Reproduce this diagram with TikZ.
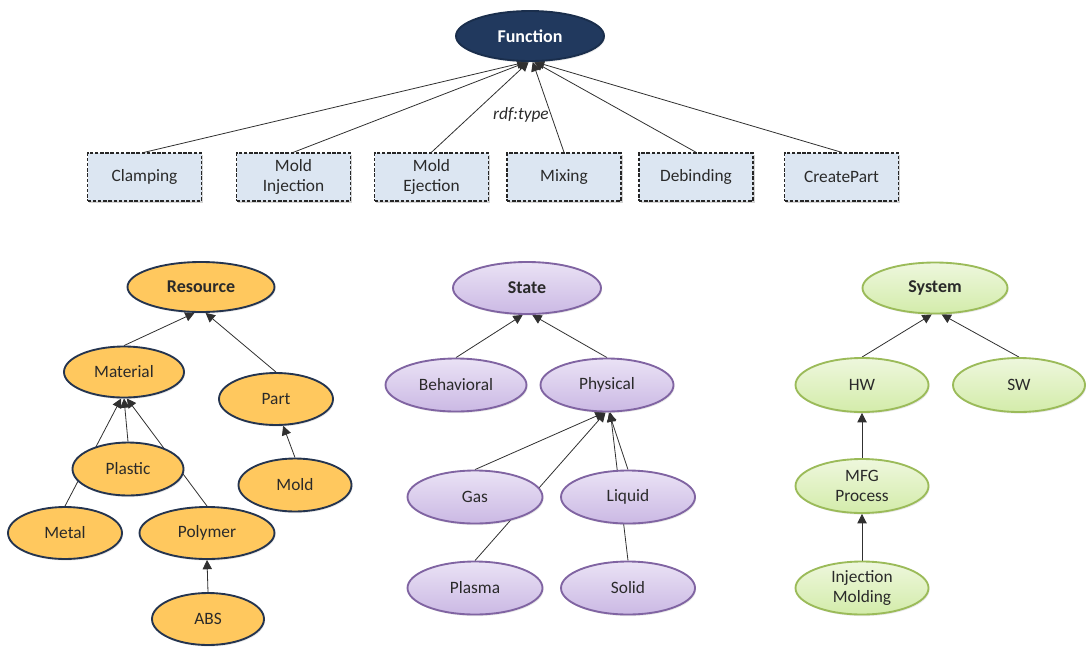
\documentclass[tikz,border=0pt]{standalone}
\usepackage{fontspec}
\setmainfont{Carlito}
\usetikzlibrary{shapes.geometric,arrows.meta,shadows,backgrounds}

% one drawing unit is one pixel of the layout grid
\def\pu{0.75pt}

\definecolor{txt}{HTML}{2A2A2A}
\definecolor{linec}{HTML}{303030}
\definecolor{navyfill}{HTML}{21395E}
\definecolor{navyline}{HTML}{1A2E4C}
\definecolor{boxfill}{HTML}{DCE6F2}
\definecolor{resfill}{HTML}{FFC85E}
\definecolor{resline}{HTML}{24344F}
\definecolor{sttop}{HTML}{EAE2F5}
\definecolor{stbot}{HTML}{CBB9E4}
\definecolor{stline}{HTML}{8064A2}
\definecolor{sytop}{HTML}{EEF7DD}
\definecolor{sybot}{HTML}{D3ECAA}
\definecolor{syline}{HTML}{9BBB59}

\tikzset{
  base/.style={inner sep=0pt, align=center, text=txt,
    font=\fontsize{13}{15}\selectfont},
  sz/.style 2 args={minimum width=#1*\pu, minimum height=#2*\pu},
  funcbox/.style={base, rectangle, draw=black!85, line width=1.1pt,
    dash pattern=on 2.6pt off 1.3pt, fill=boxfill, sz={114}{48},
    drop shadow={opacity=0.35, shadow xshift=1.2pt, shadow yshift=-1.4pt}},
  ell/.style={base, ellipse, line width=1.4pt,
    drop shadow={opacity=0.18, shadow xshift=0.8pt, shadow yshift=-1.2pt}},
  topnode/.style={font=\fontsize{13.5}{15}\selectfont\bfseries},
  fnnode/.style={ell, topnode, fill=navyfill, draw=navyline, text=white},
  resnode/.style={ell, fill=resfill, draw=resline},
  stnode/.style={ell, top color=sttop, bottom color=stbot, draw=stline},
  synode/.style={ell, top color=sytop, bottom color=sybot, draw=syline},
  link/.style={draw=linec, line width=0.6pt,
    -{Triangle[length=7pt, width=7pt]}},
}

\begin{document}
\begin{tikzpicture}[x=0.75pt, y=-0.75pt]
\useasboundingbox (0,0) rectangle (1086,647);

% ---------- Function and its instances ----------
\node[fnnode, sz={148}{50}] (fn) at (530,36) {Function};

\node[funcbox] (clamp) at (144.5,177) {Clamping};
\node[funcbox] (minj)  at (293.5,177) {Mold\\Injection};
\node[funcbox] (mej)   at (431.5,177) {Mold\\Ejection};
\node[funcbox] (mix)   at (564,177)   {Mixing};
\node[funcbox] (debind) at (696,177)  {Debinding};
\node[funcbox] (cpart) at (841.5,177) {CreatePart};

\node[base, font=\fontsize{13}{15}\selectfont\itshape] (rdf) at (521,115) {rdf:type};

% ---------- Resource ----------
\node[resnode, topnode, sz={147}{50}] (res) at (201,287) {Resource};
\node[resnode, sz={120}{51}] (mat)  at (124,372) {Material};
\node[resnode, sz={114}{52}] (part) at (276,399) {Part};
\node[resnode, sz={111}{53}] (pla)  at (128,469) {Plastic};
\node[resnode, sz={113}{53}] (mold) at (295,485) {Mold};
\node[resnode, sz={114}{52}] (met)  at (65,533)  {Metal};
\node[resnode, sz={135}{52}] (poly) at (207,533) {Polymer};
\node[resnode, sz={112}{52}] (abs)  at (208,619) {ABS};

% ---------- State ----------
\node[stnode, topnode, sz={148}{52}] (st) at (527,288) {State};
\node[stnode, sz={141}{53}] (beh)  at (456,385) {Behavioral};
\node[stnode, sz={133}{53}] (phy)  at (607,385) {Physical};
\node[stnode, sz={135}{53}] (gas)  at (475,497) {Gas};
\node[stnode, sz={134}{53}] (liq)  at (628,497) {Liquid};
\node[stnode, sz={135}{53}] (plas) at (475,588) {Plasma};
\node[stnode, sz={134}{53}] (sol)  at (628,588) {Solid};

% ---------- System ----------
\node[synode, topnode, sz={145}{51}] (sys) at (935,288) {System};
\node[synode, sz={133}{54}] (hw)  at (862,385)  {HW};
\node[synode, sz={132}{54}] (sw)  at (1019,385) {SW};
\node[synode, sz={133}{54}] (mfg) at (862,486)  {MFG\\Process};
\node[synode, sz={133}{53}] (inj) at (862,588)  {Injection\\Molding};

% ---------- connectors, kept behind the shapes ----------
\begin{scope}[on background layer]
  \draw[link] (clamp.north)  -- (fn.262);
  \draw[link] (minj.north)   -- (fn.264);
  \draw[link] (mej.north)    -- (fn.267);
  \draw[link] (mix.north)    -- (fn.276);
  \draw[link] (debind.north) -- (fn.279);
  \draw[link] (cpart.north)  -- (fn.281);

  \draw[link] (mat.north)  -- (res.256);
  \draw[link] (part.north) -- (res.280);
  \draw[link] (met.north)  -- (mat.264);
  \draw[link] (pla.north)  -- (mat.south);
  \draw[link] (poly.north) -- (mat.276);
  \draw[link] (mold.north) -- (part.285);
  \draw[link] (abs.north)  -- (poly.south);

  \draw[link] (beh.north)  -- (st.261);
  \draw[link] (phy.north)  -- (st.281);
  \draw[link] (gas.north)  -- (phy.265);
  \draw[link] (plas.north) -- (phy.267);
  \draw[link] (liq.north)  -- (phy.274);
  \draw[link] (sol.north)  -- (phy.277);

  \draw[link] (hw.north)  -- (sys.263);
  \draw[link] (sw.north)  -- (sys.284);
  \draw[link] (mfg.north) -- (hw.south);
  \draw[link] (inj.north) -- (mfg.south);
\end{scope}
\end{tikzpicture}
\end{document}
